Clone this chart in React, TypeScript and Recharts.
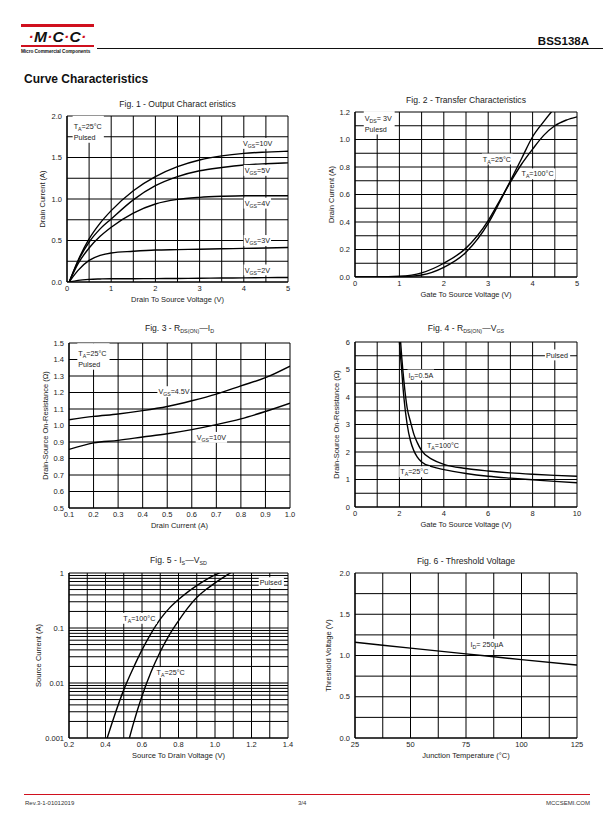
import React from 'react';
import { LineChart, Line, XAxis, YAxis, CartesianGrid, ReferenceDot } from 'recharts';

const FONT = '"Liberation Sans", Arial, Helvetica, sans-serif';
const RED = '#d0101e';
const TXT = '#222';

// ---------- Fig. 1 - Output Characteristics ----------
const fig1X = [0.05, 0.25, 0.5, 0.75, 1, 1.5, 2, 2.5, 3, 3.5, 4, 4.5, 5];
const fig1Vgs10 = [0, 0.26, 0.52, 0.71, 0.86, 1.1, 1.27, 1.39, 1.47, 1.52, 1.55, 1.565, 1.575];
const fig1Vgs5 = [0, 0.25, 0.48, 0.64, 0.76, 0.99, 1.16, 1.27, 1.34, 1.38, 1.41, 1.425, 1.435];
const fig1Vgs4 = [0, 0.22, 0.41, 0.55, 0.66, 0.83, 0.94, 0.995, 1.02, 1.033, 1.04, 1.04, 1.04];
const fig1Vgs3 = [0, 0.14, 0.26, 0.32, 0.35, 0.37, 0.385, 0.39, 0.395, 0.4, 0.405, 0.41, 0.415];
const fig1Vgs2 = [0, 0.02, 0.032, 0.037, 0.04, 0.04, 0.041, 0.043, 0.045, 0.048, 0.05, 0.053, 0.055];
const fig1XTicks = [0, 0.5, 1, 1.5, 2, 2.5, 3, 3.5, 4, 4.5, 5];
const fig1XLabels = [0, 1, 2, 3, 4, 5];
const fig1YTicks = [0, 0.25, 0.5, 0.75, 1, 1.25, 1.5, 1.75, 2];
const fig1YLabels = [0, 0.5, 1, 1.5, 2];

// ---------- Fig. 2 - Transfer Characteristics ----------
const fig2X = [0, 0.5, 1, 1.5, 2, 2.5, 3, 3.25, 3.5, 3.75, 4, 4.25, 4.5, 4.75, 5];
const fig2T25 = [0, 0, 0.002, 0.015, 0.07, 0.18, 0.39, 0.54, 0.7, 0.86, 1.02, 1.13, 1.23, 1.32, 1.4];
const fig2T100 = [0, 0, 0.005, 0.03, 0.1, 0.21, 0.41, 0.55, 0.69, 0.82, 0.93, 1.03, 1.1, 1.14, 1.165];
const fig2XTicks = [0, 0.5, 1, 1.5, 2, 2.5, 3, 3.5, 4, 4.5, 5];
const fig2XLabels = [0, 1, 2, 3, 4, 5];
const fig2YTicks = [0, 0.1, 0.2, 0.3, 0.4, 0.5, 0.6, 0.7, 0.8, 0.9, 1, 1.1, 1.2];
const fig2YLabels = [0, 0.2, 0.4, 0.6, 0.8, 1, 1.2];

// ---------- Fig. 3 - RDS(ON) vs ID ----------
const fig3X = [0.1, 0.2, 0.3, 0.4, 0.5, 0.6, 0.7, 0.8, 0.9, 1.0];
const fig3Vgs45 = [1.035, 1.055, 1.07, 1.09, 1.115, 1.15, 1.19, 1.24, 1.29, 1.36];
const fig3Vgs10 = [0.855, 0.895, 0.91, 0.93, 0.95, 0.975, 1.005, 1.04, 1.085, 1.135];
const fig3XTicks = [0.1, 0.2, 0.3, 0.4, 0.5, 0.6, 0.7, 0.8, 0.9, 1.0];
const fig3YTicks = [0.5, 0.6, 0.7, 0.8, 0.9, 1.0, 1.1, 1.2, 1.3, 1.4, 1.5];

// ---------- Fig. 4 - RDS(ON) vs VGS ----------
const fig4X = [2, 2.1, 2.2, 2.35, 2.5, 2.65, 2.8, 3, 3.5, 4, 5, 6, 7, 8, 9, 10];
const fig4T25 = [6.0, 5.0, 4.0, 3.0, 2.4, 2.05, 1.82, 1.64, 1.46, 1.36, 1.22, 1.12, 1.05, 0.99, 0.93, 0.88];
const fig4T100 = [6.6, 5.5, 4.6, 3.6, 3.1, 2.65, 2.35, 2.05, 1.72, 1.55, 1.4, 1.31, 1.24, 1.19, 1.15, 1.12];
const fig4XTicks = [0, 1, 2, 3, 4, 5, 6, 7, 8, 9, 10];
const fig4XLabels = [0, 2, 4, 6, 8, 10];
const fig4YTicks = [0, 0.5, 1, 1.5, 2, 2.5, 3, 3.5, 4, 4.5, 5, 5.5, 6];
const fig4YLabels = [0, 1, 2, 3, 4, 5, 6];

// ---------- Fig. 5 - IS vs VSD ----------
const fig5X100 = [0.4, 0.45, 0.5, 0.55, 0.6, 0.65, 0.7, 0.75, 0.8, 0.85, 0.9, 0.95, 1.0, 1.05];
const fig5T100 = [0.0008, 0.0026, 0.0075, 0.018, 0.04, 0.08, 0.145, 0.23, 0.33, 0.45, 0.59, 0.75, 0.92, 1.1];
const fig5X25 = [0.5, 0.55, 0.6, 0.65, 0.7, 0.75, 0.8, 0.85, 0.9, 0.95, 1.0, 1.05, 1.1];
const fig5T25 = [0.0004, 0.0017, 0.0058, 0.016, 0.037, 0.075, 0.135, 0.23, 0.36, 0.5, 0.66, 0.85, 1.08];
const fig5XTicks = [0.2, 0.3, 0.4, 0.5, 0.6, 0.7, 0.8, 0.9, 1.0, 1.1, 1.2, 1.3, 1.4];
const fig5XLabels = [0.2, 0.4, 0.6, 0.8, 1.0, 1.2, 1.4];
const fig5YTicks = [
  0.001, 0.002, 0.003, 0.004, 0.005, 0.006, 0.007, 0.008, 0.009,
  0.01, 0.02, 0.03, 0.04, 0.05, 0.06, 0.07, 0.08, 0.09,
  0.1, 0.2, 0.3, 0.4, 0.5, 0.6, 0.7, 0.8, 0.9, 1,
];
const fig5YLabels = [0.001, 0.01, 0.1, 1];

// ---------- Fig. 6 - Threshold Voltage ----------
const fig6X = [25, 50, 75, 100, 125];
const fig6Vth = [1.16, 1.09, 1.02, 0.95, 0.885];
const fig6XTicks = [25, 37.5, 50, 62.5, 75, 87.5, 100, 112.5, 125];
const fig6XLabels = [25, 50, 75, 100, 125];
const fig6YTicks = [0, 0.25, 0.5, 0.75, 1, 1.25, 1.5, 1.75, 2];
const fig6YLabels = [0, 0.5, 1, 1.5, 2];

// ---------- helpers ----------
const pts = (xs: number[], ys: number[]) => xs.map((x, i) => ({ x, y: ys[i] }));
const fmt = (labels: number[], digits: number | null) => (v: number) =>
  labels.some((l) => Math.abs(l - v) < 1e-9) ? (digits === null ? String(v) : v.toFixed(digits)) : '';

type Seg = { t: string; sub?: boolean };
const s = (t: string): Seg => ({ t });
const sb = (t: string): Seg => ({ t, sub: true });

const charW = (c: string) => {
  if ('il.,:;|!I'.includes(c)) return 0.25;
  if ('frt()-'.includes(c)) return 0.33;
  if (c === ' ') return 0.28;
  if (c === '°') return 0.4;
  if ('mMW'.includes(c)) return 0.83;
  if (/[A-Z]/.test(c)) return 0.68;
  return 0.556;
};
const FS = 7.5;
const AFS = 7.2;
const SFS = 5.2;
const segW = (segs: Seg[]) =>
  segs.reduce((a, g) => a + [...g.t].reduce((b, c) => b + charW(c), 0) * (g.sub ? SFS : AFS), 0);

type Pad = { l: number; r: number; t: number; b: number };
const makeAnno = (lines: Seg[][], pad: Pad = { l: 1, r: 1.5, t: 1.5, b: 1.5 }, lh = 11) => (p: any) => {
  const cx = p.cx;
  const cy = p.cy;
  const w = Math.max(...lines.map(segW));
  const top = cy - AFS * 0.55;
  const h = (lines.length - 1) * lh + AFS * 1.1;
  return (
    <g>
      <rect x={cx - pad.l} y={top - pad.t} width={w + pad.l + pad.r} height={h + pad.t + pad.b} fill="#fff" />
      {lines.map((l, i) => {
        let prevSub = false;
        return (
          <text key={i} x={cx} y={cy + AFS * 0.36 + i * lh} fontSize={AFS} fontFamily={FONT} fill={TXT}>
            {l.map((g, j) => {
              const dy = (g.sub ? 2 : 0) - (prevSub ? 2 : 0);
              prevSub = !!g.sub;
              return (
                <tspan key={j} dy={dy} fontSize={g.sub ? SFS : AFS}>
                  {g.t}
                </tspan>
              );
            })}
          </text>
        );
      })}
    </g>
  );
};

const anno = (key: string, x: number, y: number, lines: Seg[][], pad?: Pad) => (
  <ReferenceDot key={key} x={x} y={y} r={0} ifOverflow="visible" shape={makeAnno(lines, pad)} />
);

const curve = (key: string, data: { x: number; y: number }[]) => (
  <Line
    key={key}
    data={data}
    dataKey="y"
    type="monotone"
    stroke="#000"
    strokeWidth={1.4}
    dot={false}
    activeDot={false}
    isAnimationActive={false}
  />
);

const Sub = ({ children }: { children: React.ReactNode }) => (
  <span style={{ fontSize: '0.62em', position: 'relative', top: '0.3em' }}>{children}</span>
);

type PanelProps = {
  x0: number;
  y0: number;
  x1: number;
  y1: number;
  dist: number;
  titleY: number;
  title: React.ReactNode;
  xLabel: string;
  yLabel: string;
  xDomain: [number, number];
  yDomain: [number, number];
  xTicks: number[];
  yTicks: number[];
  xFmt: (v: number) => string;
  yFmt: (v: number) => string;
  log?: boolean;
  items: React.ReactNode[];
};

function Panel(p: PanelProps) {
  const w = p.x1 - p.x0;
  const h = p.y1 - p.y0;
  const yw = 2 * p.dist;
  const width = yw + w + 14;
  const height = 10 + h + 34;
  const tickStyle = { fontSize: FS, fill: TXT, fontFamily: FONT };
  return (
    <>
      <div
        style={{
          position: 'absolute',
          left: (p.x0 + p.x1) / 2,
          top: p.titleY,
          transform: 'translate(-50%, -50%)',
          fontSize: 8.6,
          lineHeight: 1,
          whiteSpace: 'nowrap',
          color: TXT,
          fontFamily: FONT,
        }}
      >
        {p.title}
      </div>
      <div style={{ position: 'absolute', left: p.x0 - yw, top: p.y0 - 10 }}>
        <LineChart width={width} height={height} margin={{ top: 10, right: 14, bottom: 0, left: 0 }}>
          <CartesianGrid stroke="#000" strokeWidth={1} />
          <XAxis
            type="number"
            dataKey="x"
            domain={p.xDomain}
            ticks={p.xTicks}
            allowDataOverflow
            interval={0}
            tickFormatter={p.xFmt}
            tickLine={false}
            tickSize={0}
            tickMargin={4}
            axisLine={{ stroke: '#000', strokeWidth: 1.2 }}
            height={34}
            tick={tickStyle}
            label={{ value: p.xLabel, position: 'center', fontSize: FS, fill: TXT, fontFamily: FONT }}
          />
          <YAxis
            type="number"
            dataKey="y"
            domain={p.yDomain}
            scale={p.log ? 'log' : 'auto'}
            ticks={p.yTicks}
            allowDataOverflow
            interval={0}
            tickFormatter={p.yFmt}
            tickLine={false}
            tickSize={0}
            tickMargin={5}
            axisLine={{ stroke: '#000', strokeWidth: 1.2 }}
            width={yw}
            tick={tickStyle}
            label={{ value: p.yLabel, angle: -90, position: 'center', fontSize: FS, fill: TXT, fontFamily: FONT }}
          />
          {p.items}
        </LineChart>
      </div>
    </>
  );
}

const abs = (st: React.CSSProperties): React.CSSProperties => ({ position: 'absolute', ...st });

function Header() {
  return (
    <>
      <div style={abs({ left: 21, top: 24, width: 73, height: 2.6, background: RED })} />
      <div
        style={abs({
          left: 21,
          top: 29,
          width: 73,
          textAlign: 'center',
          fontSize: 15.5,
          fontWeight: 'bold',
          fontStyle: 'italic',
          lineHeight: '16px',
          letterSpacing: 0.3,
          color: '#111',
          fontFamily: FONT,
        })}
      >
        <span style={{ color: RED }}>·</span>M<span style={{ color: RED }}>·</span>C
        <span style={{ color: RED }}>·</span>C<span style={{ color: RED }}>·</span>
      </div>
      <div style={abs({ left: 21, top: 45.3, width: 73, height: 2.2, background: RED })} />
      <div
        style={abs({
          left: 21,
          top: 49,
          fontSize: 4.7,
          fontWeight: 'bold',
          lineHeight: '5px',
          whiteSpace: 'nowrap',
          color: '#111',
          fontFamily: FONT,
          letterSpacing: -0.05,
        })}
      >
        Micro Commercial Components
      </div>
      <div style={abs({ left: 97, top: 47.6, width: 506, height: 1.1, background: '#111' })} />
      <div
        style={abs({
          right: 612 - 589,
          top: 35,
          fontSize: 11.5,
          fontWeight: 'bold',
          lineHeight: '12px',
          color: '#111',
          fontFamily: FONT,
        })}
      >
        BSS138A
      </div>
      <div
        style={abs({
          left: 24,
          top: 72,
          fontSize: 12,
          fontWeight: 'bold',
          lineHeight: '14px',
          color: '#111',
          fontFamily: FONT,
          whiteSpace: 'nowrap',
        })}
      >
        Curve Characteristics
      </div>
    </>
  );
}

function Footer() {
  const ft: React.CSSProperties = { fontSize: 6, lineHeight: '7px', color: '#333', fontFamily: FONT, whiteSpace: 'nowrap' };
  return (
    <>
      <div style={abs({ left: 24, top: 794, width: 566, height: 1, background: RED })} />
      <div style={abs({ ...ft, left: 25, top: 800 })}>Rev.3-1-01012019</div>
      <div style={abs({ ...ft, left: 298, top: 800 })}>3/4</div>
      <div style={abs({ ...ft, right: 612 - 590, top: 800 })}>MCCSEMI.COM</div>
    </>
  );
}

const TA = (deg: string): Seg[] => [s('T'), sb('A'), s('=' + deg + '°C')];
const VG = (v: string): Seg[] => [s('V'), sb('GS'), s('=' + v)];

export default function App() {
  return (
    <div
      style={{
        position: 'absolute',
        left: 0,
        top: 0,
        width: 612,
        height: 825,
        background: '#fff',
        overflow: 'hidden',
        fontFamily: FONT,
      }}
    >
      <Header />

      <Panel
        x0={67}
        y0={116}
        x1={288}
        y1={282}
        dist={25}
        titleY={104}
        title="Fig. 1 - Output Charact eristics"
        xLabel="Drain To Source Voltage (V)"
        yLabel="Drain Current (A)"
        xDomain={[0, 5]}
        yDomain={[0, 2]}
        xTicks={fig1XTicks}
        yTicks={fig1YTicks}
        xFmt={fmt(fig1XLabels, 0)}
        yFmt={fmt(fig1YLabels, 1)}
        items={[
          curve('v10', pts(fig1X, fig1Vgs10)),
          curve('v5', pts(fig1X, fig1Vgs5)),
          curve('v4', pts(fig1X, fig1Vgs4)),
          curve('v3', pts(fig1X, fig1Vgs3)),
          curve('v2', pts(fig1X, fig1Vgs2)),
          anno('a1', 0.15, 1.87, [TA('25'), [s('Pulsed')]], { l: 1, r: 2, t: 7, b: 1 }),
          anno('a2', 3.98, 1.67, [VG('10V')]),
          anno('a3', 4.02, 1.345, [VG('5V')]),
          anno('a4', 4.02, 0.95, [VG('4V')]),
          anno('a5', 4.02, 0.5, [VG('3V')]),
          anno('a6', 4.02, 0.145, [VG('2V')]),
        ]}
      />

      <Panel
        x0={355}
        y0={112}
        x1={577}
        y1={277}
        dist={24}
        titleY={100}
        title="Fig. 2 - Transfer Characteristics"
        xLabel="Gate To Source Voltage (V)"
        yLabel="Drain Current (A)"
        xDomain={[0, 5]}
        yDomain={[0, 1.2]}
        xTicks={fig2XTicks}
        yTicks={fig2YTicks}
        xFmt={fmt(fig2XLabels, 0)}
        yFmt={fmt(fig2YLabels, 1)}
        items={[
          curve('t25', pts(fig2X, fig2T25)),
          curve('t100', pts(fig2X, fig2T100)),
          anno('b1', 0.22, 1.156, [[s('V'), sb('DS'), s('= 3V')], [s('Pulesd')]], { l: 1, r: 3, t: 3, b: 1.5 }),
          anno('b2', 2.88, 0.858, [TA('25')]),
          anno('b3', 3.75, 0.75, [TA('100')]),
        ]}
      />

      <Panel
        x0={69}
        y0={343}
        x1={290}
        y1={508}
        dist={24}
        titleY={328}
        title={
          <>
            Fig. 3 - R<Sub>DS(ON)</Sub>—I<Sub>D</Sub>
          </>
        }
        xLabel="Drain Current (A)"
        yLabel="Drain-Source On-Resistance (Ω)"
        xDomain={[0.1, 1.0]}
        yDomain={[0.5, 1.5]}
        xTicks={fig3XTicks}
        yTicks={fig3YTicks}
        xFmt={fmt(fig3XTicks, 1)}
        yFmt={fmt(fig3YTicks, 1)}
        items={[
          curve('g45', pts(fig3X, fig3Vgs45)),
          curve('g10', pts(fig3X, fig3Vgs10)),
          anno('c1', 0.138, 1.438, [TA('25'), [s('Pulsed')]], { l: 1, r: 3, t: 6, b: 1.5 }),
          anno('c2', 0.464, 1.205, [VG('4.5V')]),
          anno('c3', 0.62, 0.928, [VG('10V')]),
        ]}
      />

      <Panel
        x0={355}
        y0={342}
        x1={577}
        y1={507}
        dist={19}
        titleY={328}
        title={
          <>
            Fig. 4 - R<Sub>DS(ON)</Sub>—V<Sub>GS</Sub>
          </>
        }
        xLabel="Gate To Source Voltage (V)"
        yLabel="Drain-Source On-Resistance (Ω)"
        xDomain={[0, 10]}
        yDomain={[0, 6]}
        xTicks={fig4XTicks}
        yTicks={fig4YTicks}
        xFmt={fmt(fig4XLabels, 0)}
        yFmt={fmt(fig4YLabels, 0)}
        items={[
          curve('r25', pts(fig4X, fig4T25)),
          curve('r100', pts(fig4X, fig4T100)),
          anno('d1', 8.6, 5.53, [[s('Pulsed')]]),
          anno('d2', 2.41, 4.8, [[s('I'), sb('D'), s('=0.5A')]]),
          anno('d3', 3.24, 2.25, [TA('100')]),
          anno('d4', 2.04, 1.28, [TA('25')]),
        ]}
      />

      <Panel
        x0={69}
        y0={573}
        x1={288}
        y1={738}
        dist={31}
        titleY={560}
        title={
          <>
            Fig. 5 - I<Sub>S</Sub>—V<Sub>SD</Sub>
          </>
        }
        xLabel="Source To Drain Voltage (V)"
        yLabel="Source Current (A)"
        xDomain={[0.2, 1.4]}
        yDomain={[0.001, 1]}
        log
        xTicks={fig5XTicks}
        yTicks={fig5YTicks}
        xFmt={fmt(fig5XLabels, 1)}
        yFmt={fmt(fig5YLabels, null)}
        items={[
          curve('s100', pts(fig5X100, fig5T100)),
          curve('s25', pts(fig5X25, fig5T25)),
          anno('e1', 1.245, 0.667, [[s('Pulsed')]]),
          anno('e2', 0.4975, 0.15, [TA('100')]),
          anno('e3', 0.68, 0.0155, [TA('25')]),
        ]}
      />

      <Panel
        x0={355}
        y0={573}
        x1={577}
        y1={738}
        dist={27}
        titleY={561}
        title="Fig. 6 - Threshold Voltage"
        xLabel="Junction Temperature (°C)"
        yLabel="Threshold Voltage (V)"
        xDomain={[25, 125]}
        yDomain={[0, 2]}
        xTicks={fig6XTicks}
        yTicks={fig6YTicks}
        xFmt={fmt(fig6XLabels, 0)}
        yFmt={fmt(fig6YLabels, 1)}
        items={[
          curve('vth', pts(fig6X, fig6Vth)),
          anno('f1', 77, 1.136, [[s('I'), sb('D'), s('= 250µA')]]),
        ]}
      />

      <Footer />
    </div>
  );
}
